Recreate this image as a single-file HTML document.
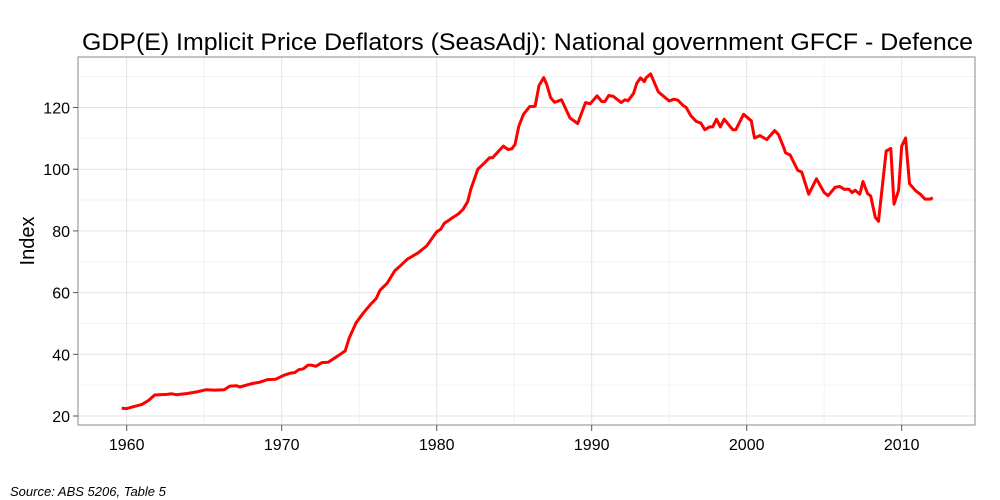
<!DOCTYPE html>
<html><head><meta charset="utf-8"><style>
body{margin:0;background:#fff;font-family:"Liberation Sans",sans-serif}
svg{display:block}
</style></head><body>
<svg id="chart" width="1000" height="500">
<rect x="0" y="0" width="1000" height="500" fill="#fff"/>
<g id="grid"></g>
<rect x="78" y="57" width="897" height="368" fill="none" stroke="#888" stroke-width="1"/>
<g id="axes"></g>
<path id="line" fill="none" stroke="#ff0000" stroke-width="3" stroke-linejoin="round"/>
<text x="82" y="50" textLength="891" lengthAdjust="spacingAndGlyphs" font-size="24.5" fill="#000">GDP(E) Implicit Price Deflators (SeasAdj): National government GFCF - Defence</text>
<text transform="translate(34,241) rotate(-90)" text-anchor="middle" font-size="20" fill="#000">Index</text>
<text x="10" y="496" font-size="13" font-style="italic" fill="#000">Source: ABS 5206, Table 5</text>
</svg>
<script>
const years=[1959.68,1960.0,1960.43,1960.97,1961.4,1961.8,1962.6,1962.9,1963.2,1963.9,1964.6,1965.1,1965.7,1966.3,1966.65,1967.1,1967.3,1968.0,1968.6,1969.1,1969.6,1970.1,1970.5,1970.85,1971.1,1971.4,1971.7,1971.9,1972.2,1972.6,1973.0,1973.3,1973.6,1974.1,1974.35,1974.8,1975.25,1975.7,1976.1,1976.35,1976.8,1977.3,1977.7,1978.1,1978.8,1979.35,1979.7,1980.0,1980.25,1980.5,1980.75,1981.0,1981.4,1981.7,1982.0,1982.2,1982.65,1983.1,1983.4,1983.6,1984.3,1984.6,1984.85,1985.05,1985.3,1985.6,1986.0,1986.35,1986.6,1986.9,1987.1,1987.35,1987.6,1988.05,1988.6,1989.1,1989.6,1989.9,1990.35,1990.65,1990.85,1991.1,1991.4,1991.9,1992.15,1992.35,1992.7,1992.9,1993.15,1993.4,1993.5,1993.8,1994.3,1995.0,1995.3,1995.55,1995.9,1996.1,1996.4,1996.75,1997.05,1997.3,1997.6,1997.8,1998.05,1998.3,1998.55,1999.1,1999.3,1999.8,2000.3,2000.5,2000.85,2001.3,2001.8,2002.05,2002.4,2002.5,2002.8,2003.3,2003.55,2004.0,2004.5,2005.0,2005.25,2005.7,2006.0,2006.3,2006.6,2006.8,2007.0,2007.3,2007.5,2007.8,2008.0,2008.3,2008.5,2009.0,2009.3,2009.5,2009.8,2010.0,2010.25,2010.5,2010.9,2011.2,2011.5,2011.85,2012.0];
const values=[22.5,22.4,23,23.7,25,26.8,27,27.2,26.9,27.3,27.9,28.5,28.4,28.5,29.7,29.8,29.4,30.4,31,31.8,31.9,33.1,33.8,34.1,35,35.3,36.5,36.5,36.1,37.3,37.4,38.4,39.4,41.1,45.2,50.2,53.3,56,58.1,60.8,63,67.1,68.9,70.8,72.9,75.1,77.6,79.7,80.5,82.5,83.3,84.2,85.5,87,89.5,93.5,100,102.1,103.7,103.7,107.5,106.4,106.6,108,113.9,117.8,120.3,120.4,127.1,129.7,127.5,123.2,121.7,122.5,116.6,114.8,121.6,121.2,123.8,121.9,121.9,123.9,123.6,121.6,122.5,122.2,124.6,127.8,129.6,128.4,129.6,130.9,125.1,122.1,122.7,122.4,120.6,120,117.3,115.5,114.9,112.8,113.7,113.7,116.2,113.7,116.2,112.8,112.8,117.8,115.7,110.1,110.9,109.6,112.5,111.2,106.9,105.3,104.6,99.6,99.1,91.9,96.9,92.4,91.4,94.1,94.4,93.5,93.5,92.4,93.2,91.9,96,92.1,91.3,84.4,83.1,105.9,106.7,88.7,93.2,107.5,110.1,95.3,93,91.9,90.3,90.3,90.8];
const xTicks=[1960,1970,1980,1990,2000,2010];
const yTicks=[20,40,60,80,100,120];
const X=y=>126.7+(y-1960)*15.5;
const Y=v=>416-(v-20)*3.085;
const NS='http://www.w3.org/2000/svg';
const grid=document.getElementById('grid'),axes=document.getElementById('axes');
function ln(p,x1,y1,x2,y2,c,w){const l=document.createElementNS(NS,'line');l.setAttribute('x1',x1);l.setAttribute('y1',y1);l.setAttribute('x2',x2);l.setAttribute('y2',y2);l.setAttribute('stroke',c);l.setAttribute('stroke-width',w);p.appendChild(l);return l;}
for(let v=30;v<=130;v+=20){const l=ln(grid,78,Y(v),975,Y(v),'#f2f2f2',1);

}
for(let t=1965;t<=2010;t+=10){const l=ln(grid,X(t),57,X(t),425,'#f2f2f2',1);

}
yTicks.forEach(v=>{const l=ln(grid,78,Y(v),975,Y(v),'#e3e3e3',1);


const t=ln(axes,73,Y(v),78,Y(v),'#555',1);


const tx=document.createElementNS(NS,'text');tx.setAttribute('x',70);tx.setAttribute('y',Y(v)+6);tx.setAttribute('text-anchor','end');tx.setAttribute('font-size','16');tx.textContent=v;


axes.appendChild(tx);});
xTicks.forEach(y=>{const l=ln(grid,X(y),57,X(y),425,'#e3e3e3',1);


const t=ln(axes,X(y),425,X(y),431,'#555',1);


const tx=document.createElementNS(NS,'text');tx.setAttribute('x',X(y));tx.setAttribute('y',450);tx.setAttribute('text-anchor','middle');tx.setAttribute('font-size','16');tx.textContent=y;


axes.appendChild(tx);});
document.getElementById('line').setAttribute('d',years.map((y,i)=>(i?'L':'M')+X(y).toFixed(1)+','+Y(values[i]).toFixed(1)).join(''));
</script>
</body></html>
